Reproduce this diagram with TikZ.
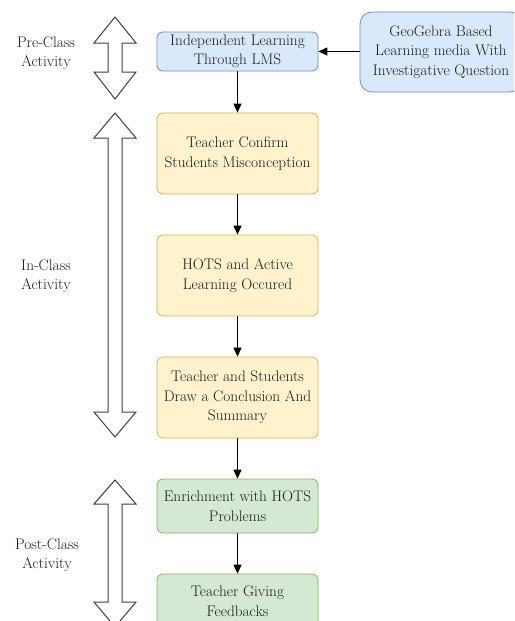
\documentclass[tikz,border=0pt]{standalone}
\usetikzlibrary{arrows.meta}
\definecolor{bfill}{HTML}{DAE8FC}\definecolor{bdraw}{HTML}{6C8EBF}
\definecolor{yfill}{HTML}{FFF2CC}\definecolor{ydraw}{HTML}{D6B656}
\definecolor{gfill}{HTML}{D5E8D4}\definecolor{gdraw}{HTML}{82B366}
\definecolor{txt}{HTML}{1A1A1A}
\tikzset{
  boxbase/.style={rounded corners=6pt, line width=0.8pt, align=center, text=txt,
    font=\fontsize{15.3}{19.5}\selectfont, inner sep=0pt, minimum width=161pt},
  bluebox/.style={boxbase, fill=bfill, draw=bdraw},
  yelbox/.style={boxbase, fill=yfill, draw=ydraw, minimum height=81pt},
  grnbox/.style={boxbase, fill=gfill, draw=gdraw, minimum height=54pt},
  lbl/.style={align=center, text=txt, font=\fontsize{15.3}{19.5}\selectfont},
  conn/.style={line width=1.1pt, -{Triangle[length=9pt,width=8pt]}},
  blockarrow/.style={fill=white, draw=black!75, line width=1pt, line join=miter}
}
\newcommand{\dblarrow}[5]{% cx, toptip, topbase, botbase, bottip
  \draw[blockarrow] (#1,#2) -- (#1+21,#3) -- (#1+7,#3) -- (#1+7,#4) -- (#1+21,#4)
    -- (#1,#5) -- (#1-21,#4) -- (#1-7,#4) -- (#1-7,#3) -- (#1-21,#3) -- cycle;}
\begin{document}
\begin{tikzpicture}[x=1pt,y=-1pt]
\useasboundingbox (0,0) rectangle (514,621);
\clip (0,0) rectangle (514,621);
\fill[white] (0,0) rectangle (514,621);
% block arrows
\dblarrow{115}{17}{43}{72}{99}
\dblarrow{115}{113}{138}{412}{437}
\dblarrow{115}{480}{504}{602}{627}
% labels
\node[lbl] (pre) at (46,53) {Pre-Class\\Activity};
\node[lbl] (in) at (46,276) {In-Class\\Activity};
\node[lbl] (post) at (47,555) {Post-Class\\Activity};
% boxes
\node[bluebox, minimum height=39pt] (lms) at (237.5,51.5) {Independent Learning\\Through LMS};
\node[bluebox, minimum height=80pt, minimum width=162pt, rounded corners=12pt] (geo) at (441,52) {GeoGebra Based\\Learning media With\\Investigative Question};
\node[yelbox] (y1) at (237.5,153.5) {Teacher Confirm\\Students Misconception};
\node[yelbox] (y2) at (237.5,275.5) {HOTS and Active\\Learning Occured};
\node[yelbox] (y3) at (237.5,397.5) {Teacher and Students\\Draw a Conclusion And\\Summary};
\node[grnbox] (g1) at (237.5,506) {Enrichment with HOTS\\Problems};
\node[grnbox] (g2) at (237.5,601) {Teacher Giving\\Feedbacks};
% connectors
\draw[conn] (geo.west |- lms.east) -- (lms.east);
\draw[conn] (lms.south) -- (y1.north);
\draw[conn] (y1.south) -- (y2.north);
\draw[conn] (y2.south) -- (y3.north);
\draw[conn] (y3.south) -- (g1.north);
\draw[conn] (g1.south) -- (g2.north);
\end{tikzpicture}
\end{document}
